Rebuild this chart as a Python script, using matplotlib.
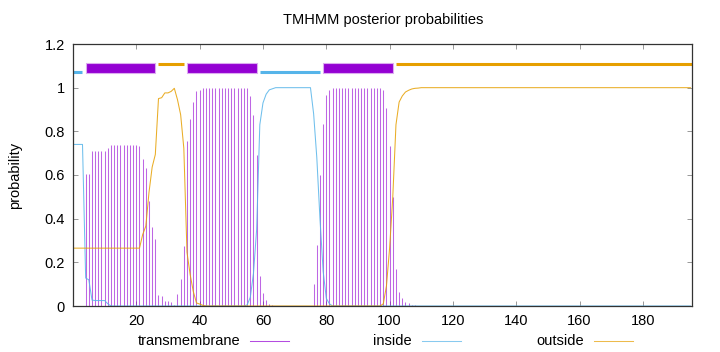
import matplotlib.pyplot as plt
from matplotlib.lines import Line2D
from matplotlib.patches import Rectangle
import numpy as np

plt.rcParams['font.family'] = ['Liberation Sans', 'DejaVu Sans']

# residue positions (curves start at 0 in the picture)
residues = np.arange(0, 196)

transmembrane = ([0.0] * 4 + [0.605, 0.605] + [0.711] * 5 + [0.723] + [0.737] * 9 + [0.735]
                 + [0.673, 0.634, 0.479, 0.364, 0.306, 0.050, 0.046, 0.024, 0.024, 0.017,
                    0.003, 0.055, 0.124, 0.277, 0.754, 0.856, 0.934, 0.986, 0.991]
                 + [1.0] * 15
                 + [0.960, 0.876, 0.693, 0.138, 0.059, 0.027, 0.007, 0.005]
                 + [0.0] * 12
                 + [0.10, 0.28, 0.60, 0.835, 0.965, 0.99]
                 + [1.0] * 16
                 + [0.99, 0.908, 0.734, 0.50, 0.17, 0.066, 0.038, 0.02, 0.012, 0.006, 0.003, 0.002]
                 + [0.0] * 86)

inside = ([0.74] * 4 + [0.128, 0.12, 0.027, 0.025, 0.025, 0.025, 0.025, 0.01]
          + [0.0] * 43
          + [0.005, 0.04, 0.15, 0.35, 0.83, 0.93, 0.97, 0.99, 0.995]
          + [1.0] * 12
          + [0.88, 0.68, 0.40, 0.16, 0.035, 0.01]
          + [0.0] * 114)

outside = ([0.265] * 22
           + [0.327, 0.366, 0.52, 0.636, 0.694, 0.95, 0.954, 0.976, 0.976, 0.983,
              0.997, 0.945, 0.876, 0.723, 0.246, 0.144, 0.066, 0.014, 0.009, 0.003]
           + [0.0] * 55
           + [0.0, 0.01, 0.092, 0.266, 0.5, 0.83, 0.934, 0.962, 0.98, 0.988, 0.994, 0.997, 0.998]
           + [1.0] * 86)

# predicted topology (start, end) as drawn on top
tm_segments = [(4, 26), (36, 58), (79, 101)]
inside_segments = [(0, 3), (59, 78)]
outside_segments = [(27, 35), (102, 195.5)]

xticks = [20, 40, 60, 80, 100, 120, 140, 160, 180]
yticks = [0, 0.2, 0.4, 0.6, 0.8, 1, 1.2]
ytick_labels = ['0', '0.2', '0.4', '0.6', '0.8', '1', '1.2']

c_tm = '#9400d3'
c_in = '#56b4e9'
c_out = '#e69f00'
fs = 10.5

fig = plt.figure(figsize=(7.2, 3.52), dpi=100)
ax = fig.add_axes([73 / 720, 1 - 306 / 352, (692 - 73) / 720, (306 - 44) / 352])

ax.vlines(residues, 0, transmembrane, color=c_tm, lw=0.75, alpha=0.6)
ax.plot(residues, inside, color=c_in, lw=0.75, alpha=0.85)
ax.plot(residues, outside, color=c_out, lw=0.75, alpha=0.85)

for s, e in tm_segments:
    ax.add_patch(Rectangle((s, 1.09 - 0.023), e - s, 0.046, facecolor=c_tm,
                           edgecolor='#dcaaf0', lw=0.8))
for s, e in inside_segments:
    ax.plot([s, e], [1.07, 1.07], color=c_in, lw=2.2, solid_capstyle='butt')
for s, e in outside_segments:
    ax.plot([s, e], [1.11, 1.11], color=c_out, lw=2.2, solid_capstyle='butt')

ax.set_xlim(0, 195.5)
ax.set_ylim(0, 1.2)
ax.set_xticks(xticks)
ax.set_yticks(yticks)
ax.set_yticklabels(ytick_labels)
ax.tick_params(direction='in', length=3.5, width=0.6, color='#888888',
               top=True, right=True, labelsize=fs, pad=6)
for sp in ax.spines.values():
    sp.set_color('#333333')
    sp.set_linewidth(0.9)

fig.text(383 / 720, 1 - 20 / 352, 'TMHMM posterior probabilities', ha='center', va='center', fontsize=fs)
fig.text(15 / 720, 1 - 175 / 352, 'probability', rotation=90, ha='center', va='center', fontsize=fs)

# gnuplot style key below the plot
legend_items = [('transmembrane', c_tm, 240), ('inside', c_in, 412), ('outside', c_out, 584)]
ly = 1 - 341 / 352
for label, col, xr in legend_items:
    fig.text(xr / 720, ly, label, ha='right', va='center', fontsize=fs)
    fig.add_artist(Line2D([(xr + 10) / 720, (xr + 49) / 720], [ly, ly], color=col,
                          lw=0.75, alpha=0.7, transform=fig.transFigure))

fig.savefig('out.png', dpi=100)
